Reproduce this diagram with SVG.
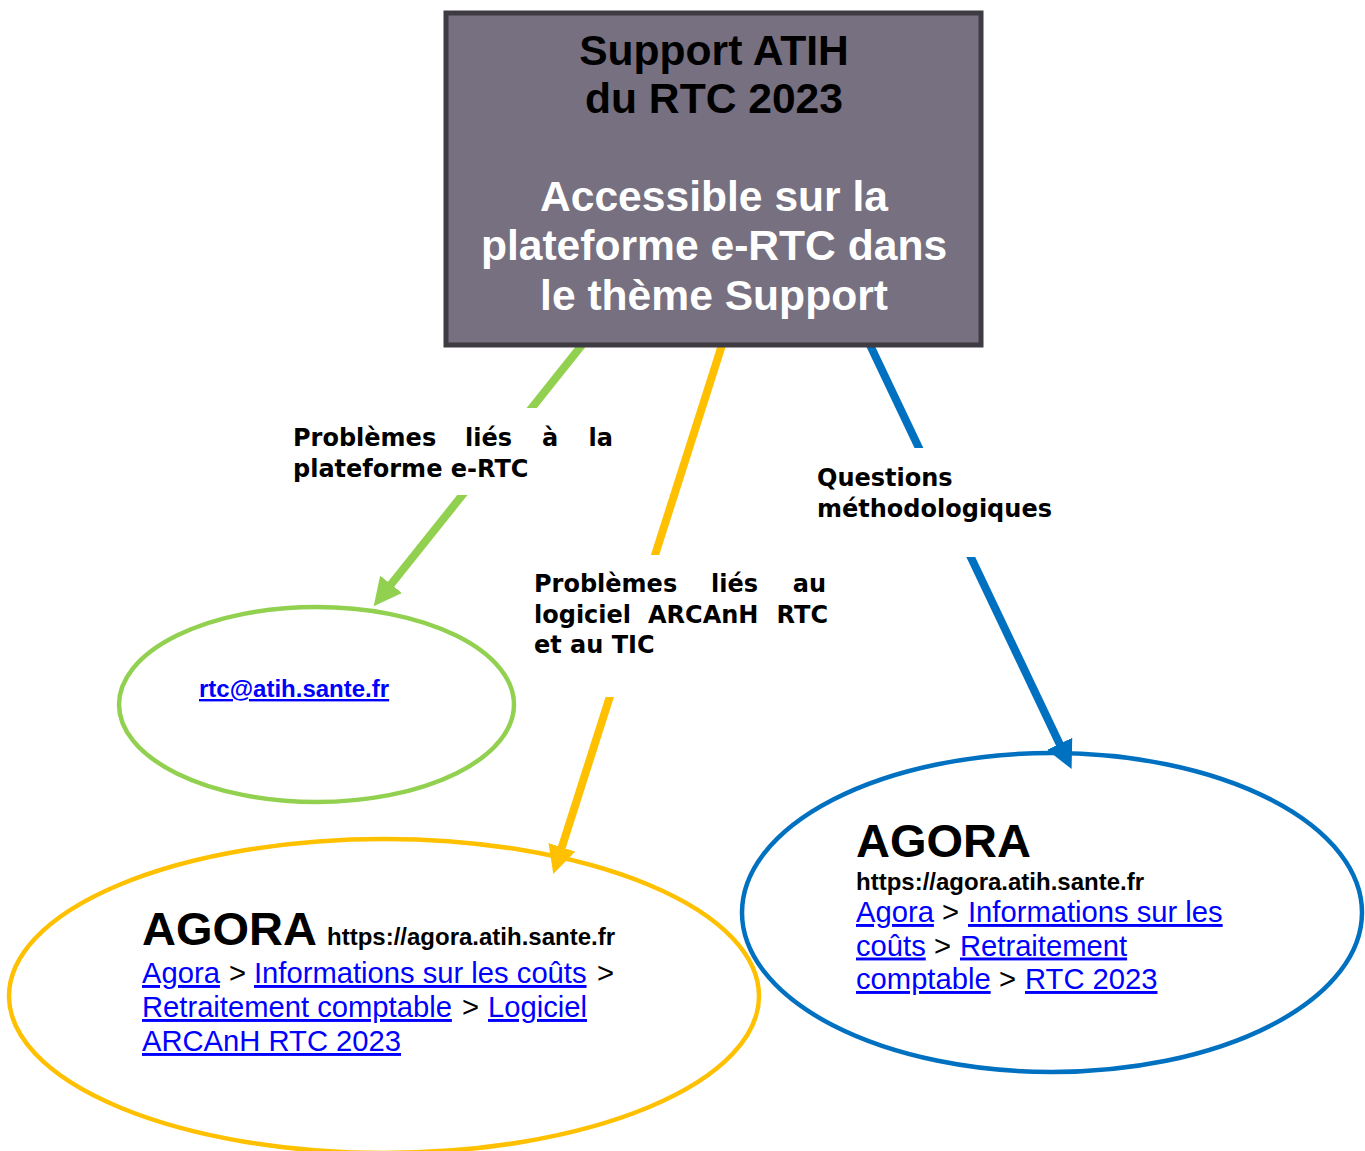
<svg xmlns="http://www.w3.org/2000/svg" width="1365" height="1151" viewBox="0 0 1365 1151">
<style>
.title{font-family:"Liberation Sans",Arial,sans-serif;font-weight:bold;font-size:42.6px;text-anchor:middle}
.lbl{font-family:"DejaVu Sans",Verdana,sans-serif;font-weight:bold;font-size:24px;fill:#000}
.conn{fill:none;stroke-width:8;stroke-linecap:butt}
.ell{fill:#fff;stroke-width:4.5}
.big{font-family:"Liberation Sans",Arial,sans-serif;font-weight:bold;font-size:47px;fill:#000}
.url{font-family:"Liberation Sans",Arial,sans-serif;font-weight:bold;font-size:24px;fill:#000}
.bc{font-family:"Liberation Sans",Arial,sans-serif;font-size:29.2px;fill:#000}
.lnk{fill:#0000ff;text-decoration:underline}
.bg{fill:#fff}
</style>
<defs>
<marker id="ahG" viewBox="0 0 28 28" refX="1" refY="14" markerWidth="3.5" markerHeight="3.5" orient="auto" markerUnits="strokeWidth"><path d="M0,0 L28,14 L0,28 z" fill="#92d050"/></marker>
<marker id="ahY" viewBox="0 0 28 28" refX="1" refY="14" markerWidth="3.5" markerHeight="3.5" orient="auto" markerUnits="strokeWidth"><path d="M0,0 L28,14 L0,28 z" fill="#ffc000"/></marker>
<marker id="ahB" viewBox="0 0 28 28" refX="1" refY="14" markerWidth="3.5" markerHeight="3.5" orient="auto" markerUnits="strokeWidth"><path d="M0,0 L28,14 L0,28 z" fill="#0070c0"/></marker>
</defs>

<g id="node-email">
<ellipse class="ell" cx="316.5" cy="704.5" rx="197.5" ry="97.5" stroke="#92d050"/>
<text x="199" y="697" font-family="Liberation Sans, Arial, sans-serif" font-weight="bold" font-size="24" fill="#0000ff" text-decoration="underline">rtc@atih.sante.fr</text>
</g>

<g id="node-agora-logiciel">
<ellipse class="ell" cx="384" cy="996" rx="375" ry="157" stroke="#ffc000"/>
<text class="big" x="142" y="945">AGORA</text>
<text class="url" x="327" y="945">https://agora.atih.sante.fr</text>
<text class="bc" y="983"><tspan class="lnk" x="142">Agora</tspan><tspan x="229">&gt;</tspan><tspan class="lnk" x="254">Informations sur les coûts</tspan><tspan x="597">&gt;</tspan></text>
<text class="bc" y="1017"><tspan class="lnk" x="142">Retraitement comptable</tspan><tspan x="462">&gt;</tspan><tspan class="lnk" x="488">Logiciel</tspan></text>
<text class="bc" y="1051"><tspan class="lnk" x="142">ARCAnH RTC 2023</tspan></text>
</g>

<g id="node-agora-rtc">
<ellipse class="ell" cx="1052" cy="912.5" rx="310" ry="159.5" stroke="#0070c0"/>
<text class="big" x="856" y="857">AGORA</text>
<text class="url" x="856" y="890">https://agora.atih.sante.fr</text>
<text class="bc" y="922"><tspan class="lnk" x="856">Agora</tspan><tspan x="942">&gt;</tspan><tspan class="lnk" x="968">Informations sur les</tspan></text>
<text class="bc" y="955.5"><tspan class="lnk" x="856">coûts</tspan><tspan x="934">&gt;</tspan><tspan class="lnk" x="960">Retraitement</tspan></text>
<text class="bc" y="989"><tspan class="lnk" x="856">comptable</tspan><tspan x="999">&gt;</tspan><tspan class="lnk" x="1025">RTC 2023</tspan></text>
</g>

<g id="connectors">
<line class="conn" x1="582" y1="345" x2="390.5" y2="585.1" stroke="#92d050" marker-end="url(#ahG)"/>
<line class="conn" x1="722" y1="345" x2="561.5" y2="848.3" stroke="#ffc000" marker-end="url(#ahY)"/>
<line class="conn" x1="870" y1="345" x2="1060" y2="744.7" stroke="#0070c0" marker-end="url(#ahB)"/>
</g>

<g id="label-plateforme">
<rect class="bg" x="285" y="408" width="337" height="87"/>
<text class="lbl" y="446"><tspan x="293">Problèmes</tspan><tspan x="465">liés</tspan><tspan x="542">à</tspan></text>
<text class="lbl" x="613" y="446" text-anchor="end">la</text>
<text class="lbl" x="293" y="477">plateforme e-RTC</text>
</g>

<g id="label-logiciel">
<rect class="bg" x="525" y="555" width="310" height="142"/>
<text class="lbl" y="592"><tspan x="534">Problèmes</tspan><tspan x="711">liés</tspan></text>
<text class="lbl" x="826" y="592" text-anchor="end">au</text>
<text class="lbl" y="623"><tspan x="534">logiciel</tspan><tspan x="648">ARCAnH</tspan></text>
<text class="lbl" x="828" y="623" text-anchor="end">RTC</text>
<text class="lbl" x="534" y="653">et au TIC</text>
</g>

<g id="label-methodo">
<rect class="bg" x="808" y="448" width="248" height="109"/>
<text class="lbl" x="817" y="486">Questions</text>
<text class="lbl" x="817" y="517">méthodologiques</text>
</g>

<g id="node-support">
<rect x="446" y="13" width="535" height="332" fill="#767080" stroke="#3e3b42" stroke-width="5"/>
<text class="title" x="714" y="65" fill="#000">Support ATIH</text>
<text class="title" x="714" y="113" fill="#000">du RTC 2023</text>
<text class="title" x="714" y="211" fill="#fff">Accessible sur la</text>
<text class="title" x="714" y="260" fill="#fff">plateforme e-RTC dans</text>
<text class="title" x="714" y="310" fill="#fff">le thème Support</text>
</g>
</svg>
